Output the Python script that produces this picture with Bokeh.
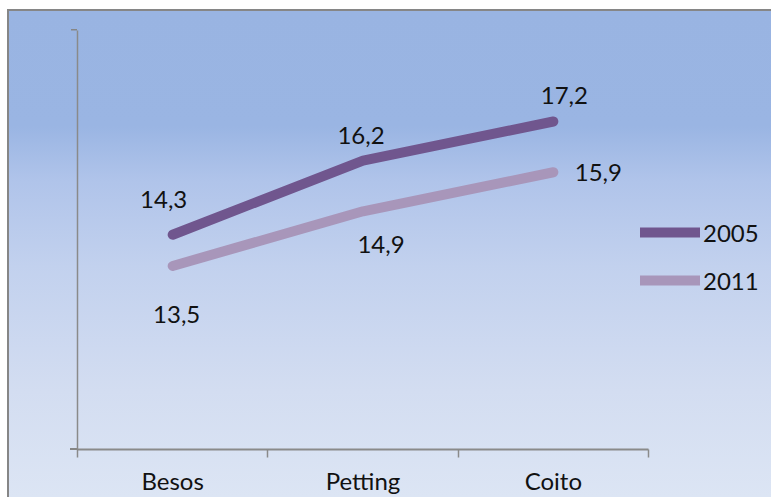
from bokeh.plotting import figure
from bokeh.models import Range1d, FixedTicker, Legend, LegendItem, ColumnDataSource
from bokeh.core.properties import value
from bokeh.embed import file_html
from bokeh.resources import INLINE

categories = ["Besos", "Petting", "Coito"]
series_names = ["2005", "2011"]
values_2005 = [14.3, 16.2, 17.2]
values_2011 = [13.5, 14.9, 15.9]

color_2005 = "#70568E"
color_2011 = "#A896BA"
axis_color = "#8A8A8A"
FONT = "Lato"
FS = "24px"

# positions of categories (centre of each category slot)
n = len(categories)
xs = [i + 0.5 for i in range(n)]


def fmt(v):
    return f"{v:.1f}".replace(".", ",")


# label offsets (screen px) mimicking manual label placement
off_2005 = ([-9, -2, 11], [-35, -25, -26])
off_2011 = ([4, 18, 45], [49, 33, 0])

W, H = 771, 497
AX_LEFT, AX_RIGHT, FRAME_RIGHT = 77, 648, 766
x_end = n * (FRAME_RIGHT - AX_LEFT) / (AX_RIGHT - AX_LEFT)

p = figure(width=W, height=H, output_backend="svg", toolbar_location=None,
           x_range=Range1d(0, x_end), y_range=Range1d(8.80, 19.53),
           min_border_left=AX_LEFT, min_border_right=W - FRAME_RIGHT,
           min_border_top=30, min_border_bottom=46)
p.background_fill_alpha = 0
p.border_fill_alpha = 0
p.outline_line_color = None
p.xgrid.visible = False
p.ygrid.visible = False

g = "linear-gradient(#868686, #868686)"
p.styles = {
    "background": (
        f"{g} 7px 9px / 764px 2px no-repeat, "        # chart border top
        f"{g} 7px 9px / 2px 488px no-repeat, "        # chart border left
        f"{g} 71px 29px / 6px 1.5px no-repeat, "      # top tick of value axis
        f"{g} 70px 448px / 8px 2px no-repeat, "       # axis crossing stub
        "linear-gradient(to bottom, #99b4e2 0px, #9ab5e3 115px, #b0c4ea 170px, "
        "#c2d1ee 255px, #d3ddf1 380px, #dce5f4 486px) 9px 11px / 762px 486px no-repeat, "
        "#ffffff"
    ),
}

src05 = ColumnDataSource(dict(x=xs, y=values_2005, t=[fmt(v) for v in values_2005],
                              dx=off_2005[0], dy=off_2005[1]))
src11 = ColumnDataSource(dict(x=xs, y=values_2011, t=[fmt(v) for v in values_2011],
                              dx=off_2011[0], dy=off_2011[1]))

r05 = p.line("x", "y", source=src05, line_color=color_2005, line_width=10,
             line_cap="round", line_join="round")
r11 = p.line("x", "y", source=src11, line_color=color_2011, line_width=10,
             line_cap="round", line_join="round")

for s in (src05, src11):
    p.text("x", "y", text="t", source=s, x_offset="dx", y_offset="dy",
           text_font=value(FONT), text_font_size=FS, text_color="#111111",
           text_align="center", text_baseline="middle")

# x axis: labels at category centres, ticks at category boundaries
p.xaxis.bounds = (0, n)
p.xaxis.ticker = FixedTicker(ticks=xs, minor_ticks=list(range(n + 1)))
p.xaxis.major_label_overrides = {x: c for x, c in zip(xs, categories)}
p.xaxis.major_tick_line_color = None
p.xaxis.major_tick_out = 0
p.xaxis.major_tick_in = 0
p.xaxis.minor_tick_out = 8
p.xaxis.minor_tick_in = 0
p.xaxis.minor_tick_line_color = axis_color
p.xaxis.minor_tick_line_width = 1.5
p.xaxis.axis_line_color = axis_color
p.xaxis.axis_line_width = 2
p.xaxis.major_label_standoff = 8
p.xaxis.major_label_text_font = FONT
p.xaxis.major_label_text_font_size = FS
p.xaxis.major_label_text_color = "#111111"

# y axis: only the line, no ticks or labels
p.yaxis.ticker = FixedTicker(ticks=[])
p.yaxis.major_tick_out = 0
p.yaxis.major_tick_in = 0
p.yaxis.minor_tick_line_color = None
p.yaxis.axis_line_color = axis_color
p.yaxis.axis_line_width = 1.5
p.yaxis.major_label_standoff = 0

legend = Legend(items=[LegendItem(label=series_names[0], renderers=[r05]),
                       LegendItem(label=series_names[1], renderers=[r11])],
                location=(640 - AX_LEFT, 154))
legend.background_fill_alpha = 0
legend.border_line_color = None
legend.padding = 0
legend.margin = 0
legend.spacing = 18
legend.glyph_width = 60
legend.glyph_height = 30
legend.label_height = 30
legend.label_standoff = 3
legend.label_text_font = FONT
legend.label_text_font_size = FS
legend.label_text_color = "#111111"
p.add_layout(legend)

open("out.html", "w").write(file_html(p, INLINE))
